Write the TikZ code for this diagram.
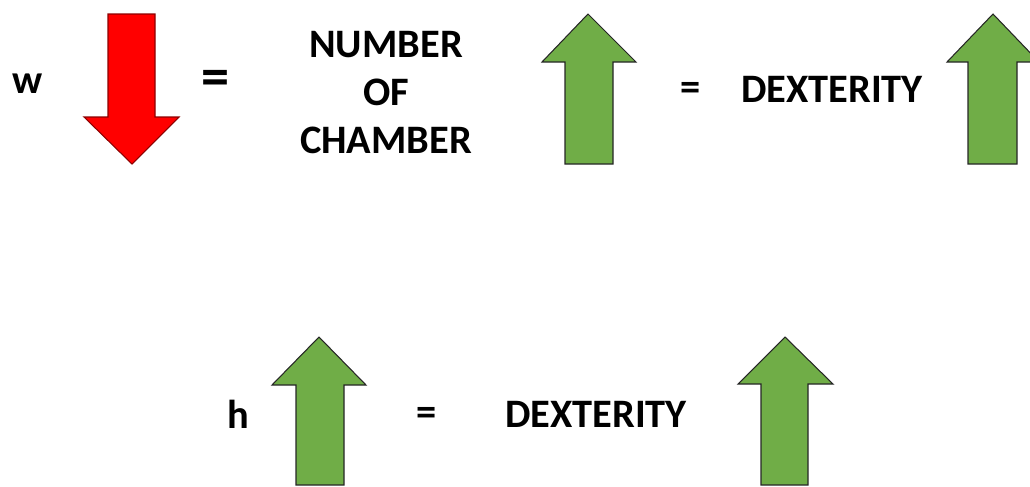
\documentclass[tikz,border=0pt]{standalone}
\usepackage{fontspec}
\setmainfont{Carlito}
\definecolor{arrgreen}{RGB}{112,173,71}
\definecolor{arrred}{RGB}{255,0,0}
\tikzset{
  upgreen/.style={draw=black!85,line width=0.6pt,fill=arrgreen,line join=miter},
  downred/.style={draw=red!55!black,line width=0.6pt,fill=arrred,line join=miter},
  lbl/.style={font=\bfseries\fontsize{23}{27.5}\selectfont,inner sep=0pt,align=center}
}

\begin{document}
\begin{tikzpicture}[scale=1]
	\useasboundingbox (0,0) rectangle (20.6,-9.72);
	% top row
	\node[lbl] (w) at (0.56,-1.68) {w};
	\draw[downred] (2.16,-0.28) -- (3.10,-0.28) -- (3.10,-2.34) -- (3.58,-2.34)
		-- (2.64,-3.28) -- (1.68,-2.34) -- (2.16,-2.34) -- cycle;
	\node[lbl,font=\bfseries\fontsize{32}{32}\selectfont] (eqw) at (4.32,-1.66) {=};
	\node[lbl] (nchamber) at (7.72,-1.85) {NUMBER\\OF\\CHAMBER};
	\draw[upgreen] (11.30,-3.28) -- (11.30,-1.24) -- (10.84,-1.24) -- (11.76,-0.28)
		-- (12.72,-1.24) -- (12.26,-1.24) -- (12.26,-3.28) -- cycle;
	\node[lbl] (eqn) at (13.82,-1.82) {=};
	\node[lbl] (dexw) at (16.64,-1.78) {DEXTERITY};
	\draw[upgreen] (19.36,-3.28) -- (19.36,-1.24) -- (18.94,-1.24) -- (19.86,-0.28)
		-- (20.78,-1.24) -- (20.34,-1.24) -- (20.34,-3.28) -- cycle;
	% bottom row
	\node[lbl] (h) at (4.76,-8.28) {h};
	\draw[upgreen] (5.92,-9.70) -- (5.92,-7.70) -- (5.44,-7.70) -- (6.38,-6.74)
		-- (7.32,-7.70) -- (6.88,-7.70) -- (6.88,-9.70) -- cycle;
	\node[lbl] (eqh) at (8.54,-8.32) {=};
	\node[lbl] (dexh) at (11.92,-8.28) {DEXTERITY};
	\draw[upgreen] (15.22,-9.70) -- (15.22,-7.68) -- (14.76,-7.68) -- (15.70,-6.74)
		-- (16.66,-7.68) -- (16.16,-7.68) -- (16.16,-9.70) -- cycle;
\end{tikzpicture}
\end{document}
